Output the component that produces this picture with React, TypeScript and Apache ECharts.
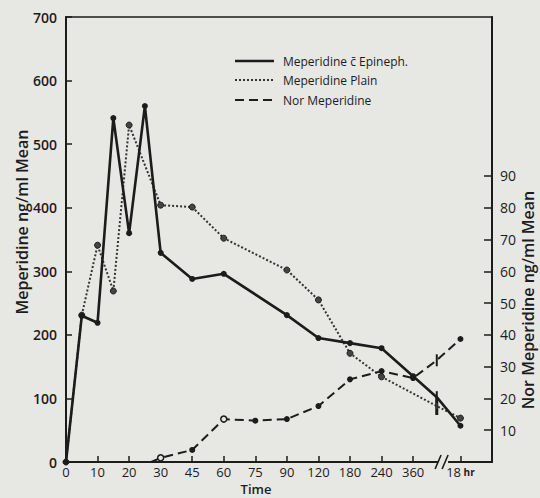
import React, { useEffect, useRef } from "react";
import * as echarts from "echarts";

// Time axis: tick labels and the minutes they stand for
const tickLabels = ["0", "10", "20", "30", "45", "60", "75", "90", "120", "180", "240", "360", "18 hr"];
const tickMinutes = [0, 10, 20, 30, 45, 60, 75, 90, 120, 180, 240, 360, 1080];
// piecewise axis scale (minutes -> axis units), 480 min sits just before the break
const knotMinutes = [0, 10, 20, 30, 45, 60, 75, 90, 120, 180, 240, 360, 480, 1080];
const knotUnits = [0, 1, 2, 3, 4, 5, 6, 7, 8, 9, 10, 11, 11.75, 12.5];

// Meperidine c̄ Epineph. (left axis, ng/ml)
const epiMinutes = [0, 5, 10, 15, 20, 25, 30, 45, 60, 90, 120, 180, 240, 360, 480, 1080];
const epiValues = [0, 230, 219, 541, 360, 560, 329, 288, 296, 231, 195, 187, 179, 135, 102, 57];

// Meperidine Plain (left axis, ng/ml)
const plainMinutes = [0, 5, 10, 15, 20, 30, 45, 60, 90, 120, 180, 240, 480, 1080];
const plainValues = [0, 231, 341, 269, 530, 404, 401, 352, 302, 255, 171, 134, 88, 69];

// Nor Meperidine (right axis, ng/ml)
const norMinutes = [27, 30, 45, 60, 75, 90, 120, 180, 240, 360, 480, 1080];
const norValues = [0, 1.3, 3.8, 13.5, 13, 13.5, 17.6, 26, 28.6, 26.4, 32, 38.7];

const leftTicks = [0, 100, 200, 300, 400, 500, 600, 700];
const rightTicks = [10, 20, 30, 40, 50, 60, 70, 80, 90];
const breakMinute = 480;

const BG = "#e7e7e4";
const INK = "#1c1c1c";
const FONT = "'Open Sans', 'DejaVu Sans', sans-serif";

function toUnits(m: number): number {
  for (let i = 0; i < knotMinutes.length - 1; i++) {
    const a = knotMinutes[i];
    const b = knotMinutes[i + 1];
    if (m >= a && m <= b) {
      return knotUnits[i] + ((m - a) / (b - a)) * (knotUnits[i + 1] - knotUnits[i]);
    }
  }
  return knotUnits[knotUnits.length - 1];
}

const tickUnits = tickMinutes.map(toUnits);
const labelOf = (u: number) => {
  const i = tickUnits.findIndex((t) => Math.abs(t - u) < 1e-6);
  if (i < 0) return "";
  const l = tickLabels[i];
  if (l.endsWith(" hr")) return "{b|" + l.replace(" hr", "") + "}{s| hr}";
  return l;
};

const breakItem = { symbol: "rect", symbolSize: [2, 12] };

export default function App() {
  const ref = useRef<HTMLDivElement>(null);
  useEffect(() => {
    if (!ref.current) return;
    const chart = echarts.init(ref.current, null, { renderer: "svg" });
    const breakUnits = 11.95;
    const option: any = {
      animation: false,
      backgroundColor: BG,
      grid: {
        left: 66,
        right: 48,
        top: 17,
        bottom: 36,
        show: true,
        borderColor: INK,
        borderWidth: 1.6,
        backgroundColor: "transparent",
      },
      xAxis: {
        type: "value",
        min: 0,
        max: 13.5,
        splitLine: { show: false },
        axisLine: { show: true, onZero: false, lineStyle: { color: INK, width: 2 } },
        axisTick: { show: true, inside: true, length: 6, customValues: tickUnits, lineStyle: { color: INK, width: 1.5 } },
        axisLabel: {
          customValues: tickUnits,
          formatter: (v: number) => labelOf(v),
          color: INK,
          fontFamily: FONT,
          fontSize: 13,
          lineHeight: 13,
          margin: 3,
          rich: {
            b: { fontFamily: FONT, fontSize: 13, lineHeight: 13, color: INK },
            s: { fontFamily: FONT, fontSize: 10, lineHeight: 13, color: INK, fontWeight: "bold" },
          },
        },
      },
      yAxis: [
        {
          type: "value",
          min: 0,
          max: 700,
          interval: 100,
          splitLine: { show: false },
          axisLine: { show: true, lineStyle: { color: INK, width: 2 } },
          axisTick: { show: true, inside: true, length: 6, customValues: leftTicks, lineStyle: { color: INK, width: 1.5 } },
          axisLabel: { color: INK, fontFamily: FONT, fontSize: 14, fontWeight: 600, margin: 9 },
        },
        {
          type: "value",
          position: "right",
          min: 0,
          max: 140,
          interval: 10,
          splitLine: { show: false },
          axisLine: { show: true, lineStyle: { color: INK, width: 2 } },
          axisTick: { show: true, inside: true, length: 8, customValues: rightTicks, lineStyle: { color: INK, width: 1.5 } },
          axisLabel: { customValues: rightTicks, color: INK, fontFamily: FONT, fontSize: 14, margin: 8 },
        },
      ],
      series: [
        {
          name: "Meperidine c̄ Epineph.",
          type: "line",
          yAxisIndex: 0,
          data: epiMinutes.map((m, i) => {
            const item: any = { value: [toUnits(m), epiValues[i]] };
            if (m === breakMinute) Object.assign(item, breakItem);
            return item;
          }),
          lineStyle: { color: INK, width: 2.6 },
          itemStyle: { color: INK },
          symbol: "circle",
          symbolSize: 6,
          z: 4,
        },
        {
          name: "Meperidine Plain",
          type: "line",
          yAxisIndex: 0,
          data: plainMinutes.map((m, i) => {
            const item: any = { value: [toUnits(m), plainValues[i]] };
            if (m === breakMinute) Object.assign(item, breakItem);
            return item;
          }),
          lineStyle: { color: "#333", width: 2, type: [2, 2] },
          itemStyle: { color: "#444", borderColor: INK, borderWidth: 1 },
          symbol: "circle",
          symbolSize: 6,
          z: 3,
        },
        {
          name: "Nor Meperidine",
          type: "line",
          yAxisIndex: 1,
          data: norMinutes.map((m, i) => {
            const item: any = { value: [toUnits(m), norValues[i]] };
            if (i === 0) item.symbol = "none";
            if (m === 30 || m === 60) item.itemStyle = { color: BG, borderColor: INK, borderWidth: 1.5 };
            if (m === breakMinute) Object.assign(item, breakItem);
            return item;
          }),
          lineStyle: { color: INK, width: 2, type: [9, 5] },
          itemStyle: { color: INK },
          symbol: "circle",
          symbolSize: 6,
          z: 3,
        },
        {
          type: "custom",
          yAxisIndex: 0,
          clip: false,
          silent: true,
          z: 10,
          data: [[breakUnits, 0]],
          renderItem: (params: any, api: any) => {
            const p = api.coord([api.value(0), api.value(1)]);
            const x = p[0];
            const y = p[1];
            return {
              type: "group",
              children: [
                { type: "rect", shape: { x: x - 5, y: y - 3, width: 10, height: 6 }, style: { fill: BG } },
                { type: "line", shape: { x1: x - 8, y1: y + 7, x2: x - 2, y2: y - 7 }, style: { stroke: INK, lineWidth: 1.6 } },
                { type: "line", shape: { x1: x - 1, y1: y + 7, x2: x + 5, y2: y - 7 }, style: { stroke: INK, lineWidth: 1.6 } },
              ],
            };
          },
        },
      ],
      graphic: [
        { type: "line", shape: { x1: 235, y1: 61, x2: 274, y2: 61 }, style: { stroke: INK, lineWidth: 2.6 } },
        { type: "line", shape: { x1: 235, y1: 80, x2: 274, y2: 80 }, style: { stroke: "#333", lineWidth: 2, lineDash: [2, 2] } },
        { type: "line", shape: { x1: 235, y1: 100, x2: 274, y2: 100 }, style: { stroke: INK, lineWidth: 2, lineDash: [9, 5] } },
        { type: "text", x: 283, y: 61, style: { text: "Meperidine c̄ Epineph.", font: "12px " + FONT, fill: INK, verticalAlign: "middle" } },
        { type: "text", x: 283, y: 80, style: { text: "Meperidine Plain", font: "12px " + FONT, fill: INK, verticalAlign: "middle" } },
        { type: "text", x: 283, y: 100, style: { text: "Nor Meperidine", font: "12px " + FONT, fill: INK, verticalAlign: "middle" } },
        { type: "text", x: 22, y: 222, rotation: Math.PI / 2, style: { text: "Meperidine ng/ml Mean", font: "600 16px " + FONT, fill: INK, align: "center", verticalAlign: "middle" } },
        { type: "text", x: 528, y: 300, rotation: Math.PI / 2, style: { text: "Nor Meperidine ng/ml Mean", font: "600 16px " + FONT, fill: INK, align: "center", verticalAlign: "middle" } },
        { type: "text", x: 256, y: 489, style: { text: "Time", font: "600 13px " + FONT, fill: INK, align: "center", verticalAlign: "middle", lineHeight: 13 } },
      ],
    };
    chart.setOption(option);
    return () => chart.dispose();
  }, []);
  return <div ref={ref} style={{ position: "absolute", left: 0, top: 0, width: 540, height: 498 }} />;
}
